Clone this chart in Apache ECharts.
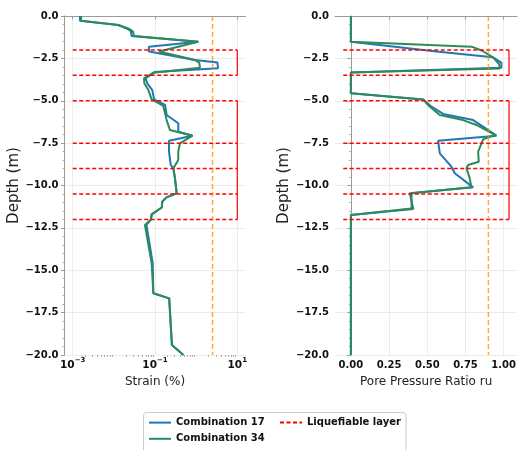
<!DOCTYPE html>
<html>
<head>
<meta charset="utf-8">
<script src="https://cdn.jsdelivr.net/npm/echarts@6/dist/echarts.min.js"></script>
<style>
  html, body { margin: 0; padding: 0; background: #ffffff; }
  #chart { width: 519px; height: 450px; }
</style>
</head>
<body>
<div id="chart"></div>
<script>
// ---- Strain profiles (%) ----
const strainDepth17 = [0, -0.28, -0.53, -0.75, -0.9, -1.18, -1.52, -1.81, -2.1, -2.6, -2.75, -3.08, -3.3, -3.68, -3.97, -4.37, -4.92, -5.25, -5.84, -6.33, -6.83, -7.06, -7.36, -8.0, -8.79, -8.99, -9.58, -10.46, -10.7, -10.95, -11.3, -11.7, -12.0, -12.33, -14.59, -16.36, -16.66, -19.41, -20];
const strain17 = [0.0015, 0.0015, 0.0128, 0.021, 0.026, 0.027, 1.13, 0.071, 0.071, 0.94, 3.3, 3.4, 0.1, 0.059, 0.065, 0.086, 0.095, 0.175, 0.192, 0.368, 0.368, 0.82, 0.219, 0.219, 0.241, 0.279, 0.306, 0.337, 0.19, 0.15, 0.146, 0.083, 0.080, 0.062, 0.088, 0.091, 0.22, 0.26, 0.49];

const strainDepth34 = [0, -0.28, -0.53, -0.75, -0.9, -1.18, -1.52, -2.1, -2.6, -2.75, -3.05, -3.35, -3.68, -3.97, -4.37, -4.92, -5.31, -6.14, -6.73, -7.06, -7.51, -8.0, -8.5, -8.99, -9.58, -10.46, -10.7, -10.95, -11.3, -11.7, -12.0, -12.33, -14.59, -16.36, -16.66, -19.41, -20];
const strain34 = [0.0016, 0.0016, 0.0128, 0.023, 0.029, 0.031, 1.13, 0.125, 0.94, 1.19, 1.24, 0.09, 0.054, 0.055, 0.069, 0.083, 0.159, 0.192, 0.231, 0.82, 0.405, 0.368, 0.368, 0.279, 0.306, 0.337, 0.19, 0.15, 0.146, 0.083, 0.080, 0.057, 0.083, 0.091, 0.223, 0.255, 0.49];

// ---- Pore pressure ratio profiles ----
const ruDepth17 = [0, -1.52, -2.1, -2.44, -2.75, -3.05, -3.34, -4.56, -4.92, -5.35, -5.78, -6.14, -6.53, -7.06, -7.36, -8.1, -8.89, -9.28, -10.11, -10.46, -11.39, -11.74, -20];
const ru17 = [0, 0, 0.56, 0.93, 0.985, 0.985, 0, 0, 0.473, 0.528, 0.604, 0.80, 0.865, 0.953, 0.571, 0.582, 0.658, 0.68, 0.80, 0.386, 0.408, 0, 0];

const ruDepth34 = [0, -1.52, -1.81, -2.05, -2.44, -2.83, -3.09, -3.34, -4.56, -4.92, -5.15, -5.35, -5.84, -6.14, -6.43, -7.02, -7.28, -7.51, -8.0, -8.6, -8.79, -8.99, -9.58, -10.11, -10.46, -11.35, -11.74, -20];
const ru34 = [0, 0, 0.79, 0.86, 0.93, 0.97, 0.975, 0, 0, 0.473, 0.495, 0.517, 0.582, 0.734, 0.822, 0.942, 0.865, 0.855, 0.833, 0.837, 0.767, 0.757, 0.778, 0.789, 0.397, 0.397, 0, 0];

// ---- Liquefiable layers and thresholds ----
const layerTops = [-2, -5, -7.5, -9, -10.5];
const layerBottoms = [-3.5, -7.5, -9, -10.5, -12];
const strainLayerSpan = [0.001, 10];
const ruLayerSpan = [-0.05, 1.035];
const strainThreshold = 2.5;
const ruThreshold = 0.9;

// ---- Axis ticks ----
const depthTicks = { min: -20, max: 0, step: 2.5 };
const strainTicks = [0.001, 0.1, 10];
const ruTicks = [0, 0.25, 0.5, 0.75, 1.0];

const FONT = 'DejaVu Sans';
const BLUE = '#1f77b4';
const GREEN = '#2e8b57';
const RED = '#ff0000';
const ORANGE = 'rgba(255,140,0,0.75)';
const SPINE = '#9a9a9a';
const GRID = '#ececec';

const pairs = (xs, ys) => xs.map((x, i) => [x, ys[i]]);

// minor log ticks 2..9 x 10^n
const strainMinor = [];
for (let n = -3; n <= 0; n++) for (let k = 2; k <= 9; k++) strainMinor.push(k * Math.pow(10, n));

// horizontal boundaries of each sub-layer (dashed) and right-hand edges (solid)
function layerDashes(span) {
  const bounds = Array.from(new Set(layerTops.concat(layerBottoms)));
  const d = [];
  bounds.forEach(b => { d.push([span[0], b], [span[1], b], ['-', '-']); });
  return d;
}
function layerEdges(span) {
  const d = [];
  layerTops.forEach((t, i) => { d.push([span[1], t], [span[1], layerBottoms[i]], ['-', '-']); });
  return d;
}

const depthFmt = v => v.toFixed(1).replace('-', '\u2212');

function yAxis(gi) {
  return {
    type: 'value', gridIndex: gi, min: depthTicks.min, max: depthTicks.max, interval: depthTicks.step,
    name: 'Depth (m)', nameLocation: 'middle', nameGap: 43,
    nameTextStyle: { fontFamily: FONT, fontSize: 15, color: '#222' },
    axisLine: { show: true, lineStyle: { color: SPINE, width: 1 } },
    axisTick: { show: true, length: 3.5, lineStyle: { color: SPINE } },
    minorTick: { show: true, splitNumber: 5, length: 2, lineStyle: { color: '#b0b0b0' } },
    axisLabel: { fontFamily: FONT, fontSize: 10, fontWeight: 'bold', color: '#111', margin: 6, formatter: depthFmt },
    splitLine: { show: true, lineStyle: { color: GRID, width: 1 } }
  };
}

const legendText = { fontFamily: FONT, fontSize: 10, fontWeight: 'bold', color: '#111' };

const option = {
  animation: false,
  backgroundColor: '#ffffff',
  grid: [
    { left: 64.5, top: 16, width: 181, height: 339 },
    { left: 335, top: 16, width: 183, height: 339 }
  ],
  xAxis: [
    {
      type: 'log', logBase: 10, gridIndex: 0, position: 'bottom',
      min: Math.pow(10, -3.2), max: Math.pow(10, 1.2),
      name: 'Strain (%)', nameLocation: 'middle', nameGap: 21,
      nameTextStyle: { fontFamily: FONT, fontSize: 12, color: '#222' },
      axisLine: { show: true, lineStyle: { color: SPINE } },
      axisTick: { show: true, length: 3.5, customValues: strainTicks, lineStyle: { color: SPINE } },
      axisLabel: {
        customValues: strainTicks, margin: 2, color: '#111',
        formatter: v => '{b|10}{s|' + String(Math.round(Math.log10(v))).replace('-', '\u2212') + '}',
        rich: {
          b: { fontFamily: FONT, fontSize: 10.5, fontWeight: 'bold', color: '#111', lineHeight: 12, padding: [3, 0, 0, 0], verticalAlign: 'top' },
          s: { fontFamily: FONT, fontSize: 7, fontWeight: 'bold', color: '#111', lineHeight: 8, verticalAlign: 'top' }
        }
      },
      splitLine: { show: true, lineStyle: { color: GRID } }
    },
    {
      type: 'log', logBase: 10, gridIndex: 0, position: 'bottom',
      min: Math.pow(10, -3.2), max: Math.pow(10, 1.2),
      axisLine: { show: false },
      axisTick: { show: true, length: 2, customValues: strainMinor, lineStyle: { color: '#b0b0b0' } },
      axisLabel: { show: false },
      splitLine: { show: false }
    },
    {
      type: 'value', gridIndex: 1, min: -0.104, max: 1.089,
      name: 'Pore Pressure Ratio ru', nameLocation: 'middle', nameGap: 21,
      nameTextStyle: { fontFamily: FONT, fontSize: 12, color: '#222' },
      axisLine: { show: true, lineStyle: { color: SPINE } },
      axisTick: { show: true, length: 3.5, customValues: ruTicks, lineStyle: { color: SPINE } },
      axisLabel: { customValues: ruTicks, margin: 5, fontFamily: FONT, fontSize: 10, fontWeight: 'bold', color: '#111', formatter: v => v.toFixed(2) },
      splitLine: { show: true, lineStyle: { color: GRID } }
    }
  ],
  yAxis: [yAxis(0), yAxis(1)],
  legend: [
    {
      orient: 'vertical', left: 143, top: 412, padding: 5, itemGap: 5,
      itemWidth: 22, itemHeight: 14,
      itemStyle: { opacity: 0 },
      data: ['Combination 17', 'Combination 34'],
      textStyle: legendText
    },
    {
      orient: 'vertical', left: 274, top: 412, padding: 5,
      itemWidth: 22, itemHeight: 14,
      itemStyle: { opacity: 0 },
      data: ['Liquefiable layer'],
      textStyle: legendText
    }
  ],
  graphic: [{
    type: 'rect', z: 1, silent: true,
    shape: { x: 143.5, y: 412.5, width: 262.5, height: 60, r: 3 },
    style: { fill: '#ffffff', stroke: '#cccccc', lineWidth: 1 }
  }],
  series: [
    { name: 'Combination 17', type: 'line', xAxisIndex: 0, yAxisIndex: 0, data: pairs(strain17, strainDepth17),
      symbol: 'none', lineStyle: { color: BLUE, width: 2 }, itemStyle: { color: BLUE }, z: 2 },
    { name: 'Combination 34', type: 'line', xAxisIndex: 0, yAxisIndex: 0, data: pairs(strain34, strainDepth34),
      symbol: 'none', lineStyle: { color: GREEN, width: 2 }, itemStyle: { color: GREEN }, z: 3 },
    { name: 'Combination 17', type: 'line', xAxisIndex: 2, yAxisIndex: 1, data: pairs(ru17, ruDepth17),
      symbol: 'none', lineStyle: { color: BLUE, width: 2 }, itemStyle: { color: BLUE }, z: 2 },
    { name: 'Combination 34', type: 'line', xAxisIndex: 2, yAxisIndex: 1, data: pairs(ru34, ruDepth34),
      symbol: 'none', lineStyle: { color: GREEN, width: 2 }, itemStyle: { color: GREEN }, z: 3 },

    { name: 'Liquefiable layer', type: 'line', xAxisIndex: 0, yAxisIndex: 0, data: layerDashes(strainLayerSpan),
      symbol: 'none', connectNulls: false, lineStyle: { color: RED, width: 1.5, type: [4, 2.5] }, itemStyle: { color: RED }, z: 4 },
    { name: 'Liquefiable layer', type: 'line', xAxisIndex: 2, yAxisIndex: 1, data: layerDashes(ruLayerSpan),
      symbol: 'none', connectNulls: false, lineStyle: { color: RED, width: 1.5, type: [4, 2.5] }, itemStyle: { color: RED }, z: 4 },
    { name: 'layer edge', type: 'line', xAxisIndex: 0, yAxisIndex: 0, data: layerEdges(strainLayerSpan),
      symbol: 'none', lineStyle: { color: RED, width: 1.2 }, z: 4 },
    { name: 'layer edge', type: 'line', xAxisIndex: 2, yAxisIndex: 1, data: layerEdges(ruLayerSpan),
      symbol: 'none', lineStyle: { color: RED, width: 1.2 }, z: 4 },

    { name: 'strain threshold', type: 'line', xAxisIndex: 0, yAxisIndex: 0,
      data: [[strainThreshold, depthTicks.max], [strainThreshold, depthTicks.min]],
      symbol: 'none', lineStyle: { color: ORANGE, width: 1.5, type: [5, 3] }, z: 5 },
    { name: 'ru threshold', type: 'line', xAxisIndex: 2, yAxisIndex: 1,
      data: [[ruThreshold, depthTicks.max], [ruThreshold, depthTicks.min]],
      symbol: 'none', lineStyle: { color: ORANGE, width: 1.5, type: [5, 3] }, z: 5 }
  ]
};

const chart = echarts.init(document.getElementById('chart'), null, { renderer: 'canvas' });
chart.setOption(option);
</script>
</body>
</html>
